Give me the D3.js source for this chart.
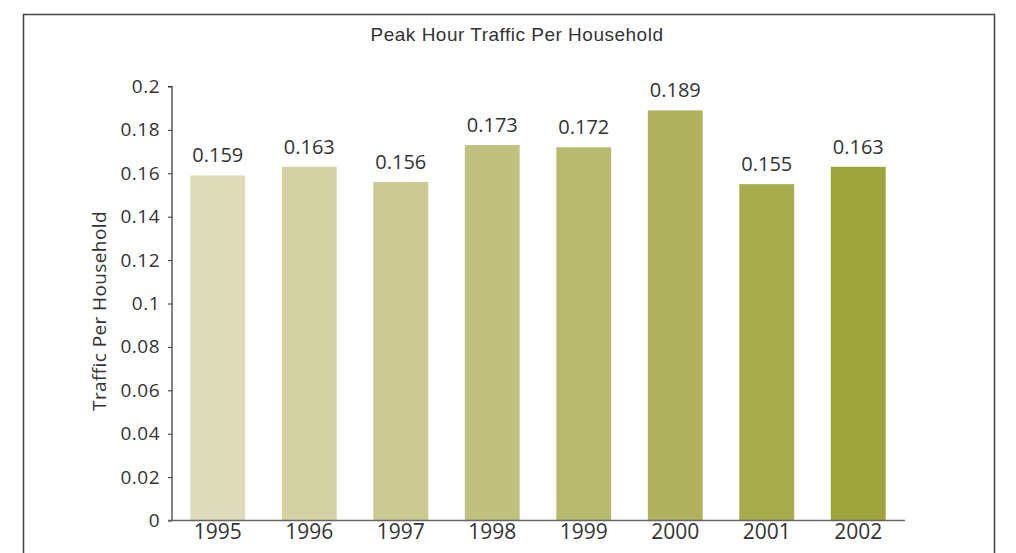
<!DOCTYPE html>
<html>
<head>
<meta charset="utf-8">
<style>
  body { margin: 0; background: #fff; }
  svg { font-family: "Open Sans", sans-serif; }
</style>
</head>
<body>
<svg width="1016" height="553"></svg>
<script src="https://d3js.org/d3.v7.min.js"></script>
<script>
var years = ["1995", "1996", "1997", "1998", "1999", "2000", "2001", "2002"];
var traffic = [0.159, 0.163, 0.156, 0.173, 0.172, 0.189, 0.155, 0.163];
var barColors = ["#dcdbba", "#d3d2a5", "#c9c991", "#c0c17e", "#b8ba70", "#b0b25e", "#a7ac4c", "#9ea43c"];
var yTicks = [0, 0.02, 0.04, 0.06, 0.08, 0.1, 0.12, 0.14, 0.16, 0.18, 0.2];

var svg = d3.select("svg");
var textColor = "#333";

// outer frame
svg.append("path")
  .attr("d", "M23.5,560 V14.5 H994.5 V560")
  .attr("fill", "none")
  .attr("stroke", "#444")
  .attr("stroke-width", 1.5);

var x = d3.scaleBand()
  .domain(years)
  .range([172, 904])
  .paddingInner(0.4)
  .paddingOuter(0.2);

var y = d3.scaleLinear()
  .domain([0, 0.2])
  .range([520.5, 86.5]);

svg.append("text")
  .attr("x", 517)
  .attr("y", 41)
  .attr("text-anchor", "middle")
  .attr("fill", textColor)
  .style("font-family", "Liberation Sans, Arial, sans-serif")
  .style("font-size", "19px")
  .style("letter-spacing", "0.5px")
  .text("Peak Hour Traffic Per Household");

// bars
svg.selectAll(".bar")
  .data(traffic)
  .enter().append("rect")
  .attr("class", "bar")
  .attr("x", function(d, i) { return x(years[i]); })
  .attr("y", function(d) { return y(d); })
  .attr("width", x.bandwidth())
  .attr("height", function(d) { return y(0) - y(d); })
  .attr("fill", function(d, i) { return barColors[i]; });

svg.selectAll(".val")
  .data(traffic)
  .enter().append("text")
  .attr("class", "val")
  .attr("x", function(d, i) { return x(years[i]) + x.bandwidth() / 2; })
  .attr("y", function(d) { return y(d) - 13; })
  .attr("text-anchor", "middle")
  .attr("fill", textColor)
  .style("font-size", "20px")
  .text(function(d) { return d3.format(".3f")(d); });

// y axis
var yAxis = svg.append("g")
  .attr("transform", "translate(172,0)")
  .call(d3.axisLeft(y).tickValues(yTicks).tickSize(4).tickPadding(8)
    .tickFormat(function(d) { return d === 0 ? "0" : String(+d.toFixed(2)); }));
yAxis.select(".domain").attr("stroke", "#333").attr("stroke-width", 1.2).attr("d", "M-4,86.5H0V520.5");
yAxis.selectAll(".tick line").attr("stroke", "#333");
yAxis.selectAll(".tick text")
  .attr("fill", textColor)
  .style("font-size", "19px")
  .style("font-family", "Open Sans")
  .style("letter-spacing", "0.5px");

// x axis
var xAxis = svg.append("g")
  .attr("transform", "translate(0,520.5)")
  .call(d3.axisBottom(x).tickSize(0).tickPadding(4));
xAxis.select(".domain").attr("stroke", "#666").attr("stroke-width", 1.5).attr("d", "M168,0H905");
xAxis.selectAll(".tick text")
  .attr("fill", textColor)
  .style("font-size", "21px")
  .style("font-family", "Open Sans");

svg.append("text")
  .attr("transform", "translate(106,311) rotate(-90)")
  .attr("text-anchor", "middle")
  .attr("fill", textColor)
  .style("font-size", "19px")
  .style("letter-spacing", "0.4px")
  .text("Traffic Per Household");
</script>
</body>
</html>
